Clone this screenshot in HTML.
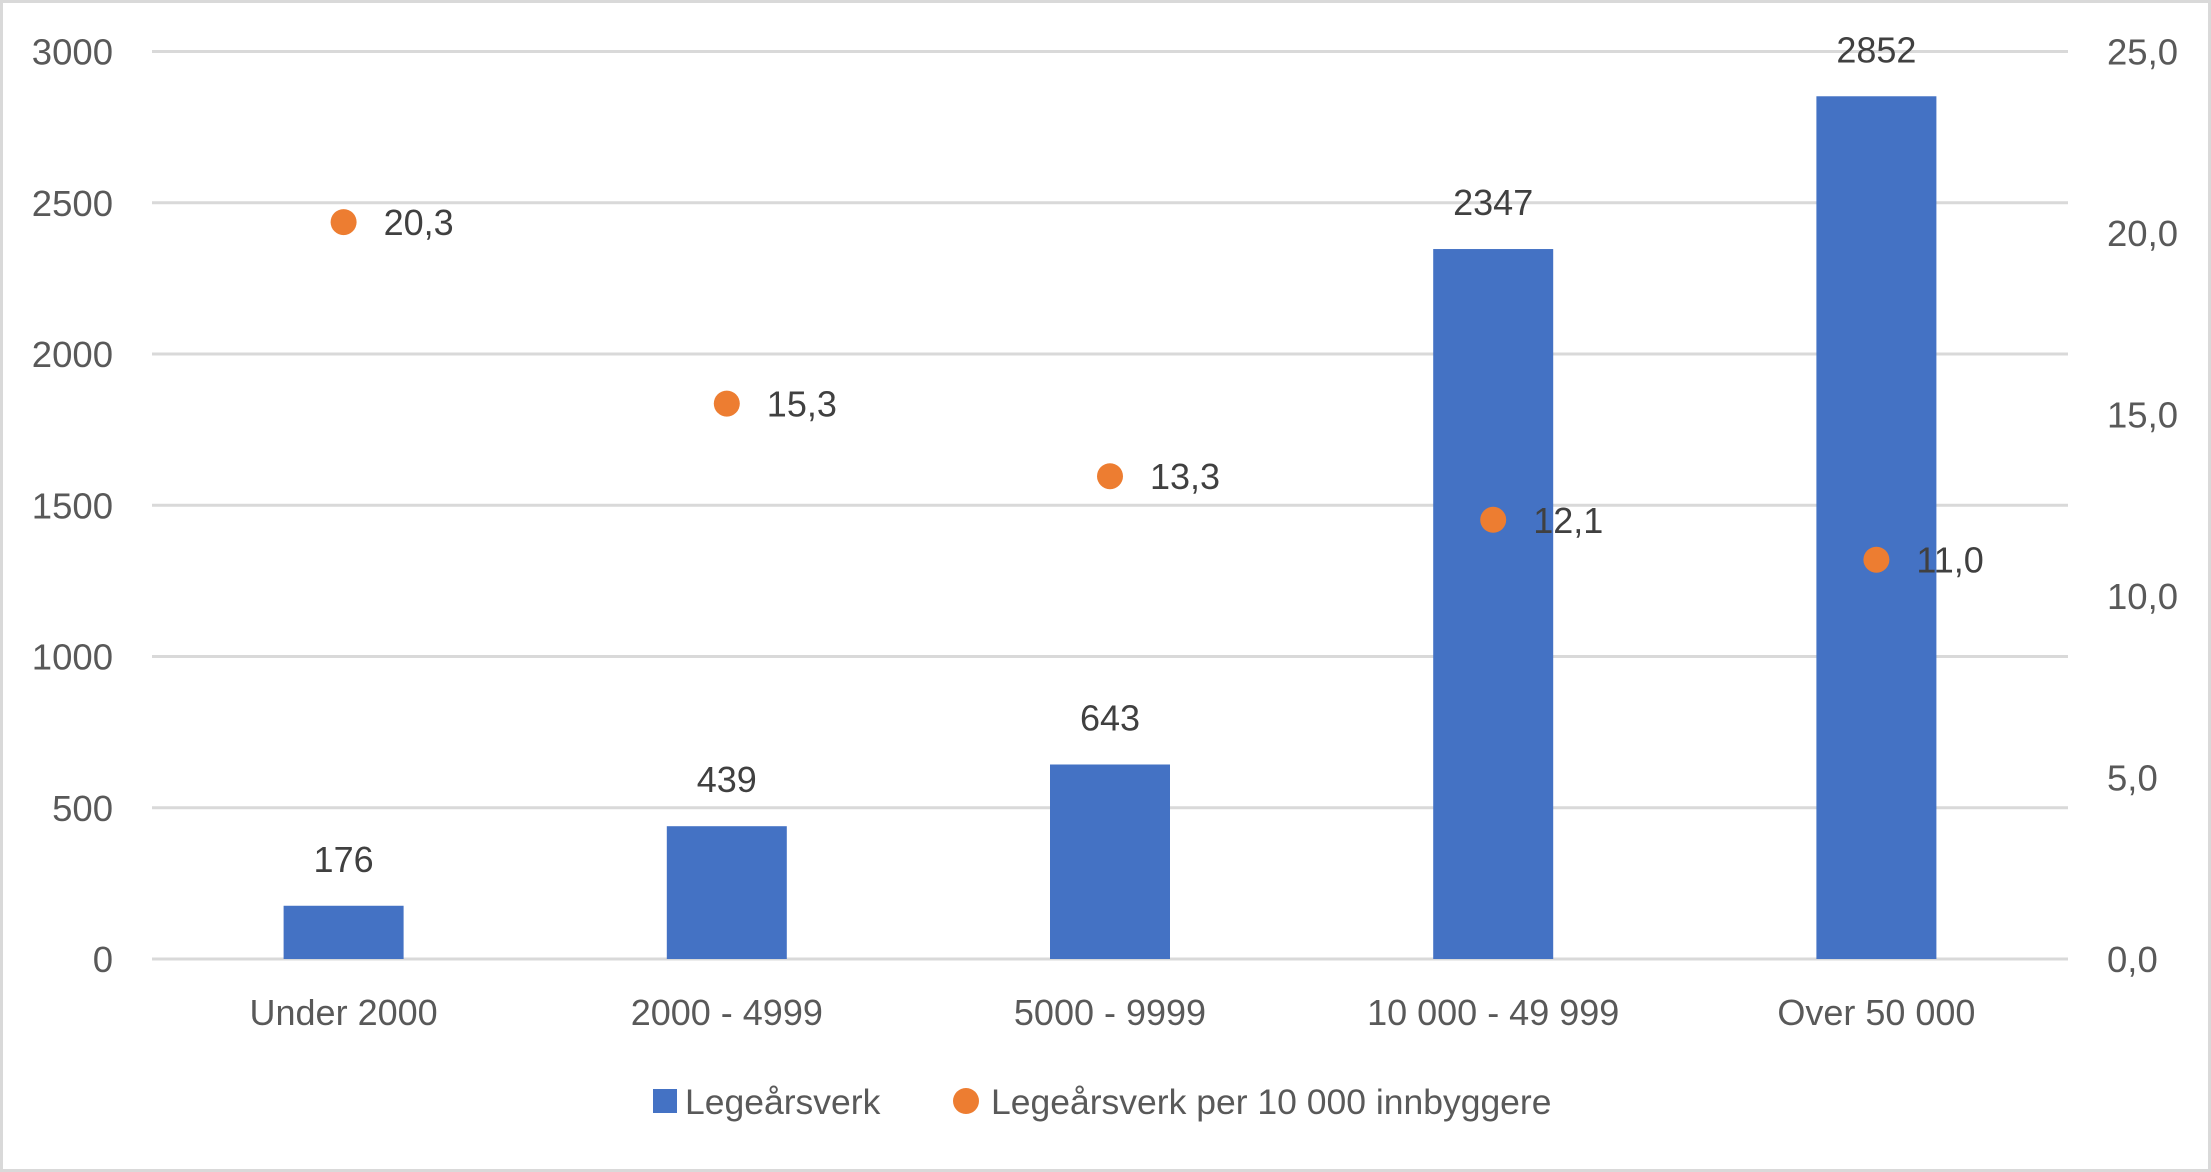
<!DOCTYPE html>
<html><head><meta charset="utf-8"><style>
body{margin:0;background:#fff}
svg{display:block;font-family:"Liberation Sans",sans-serif}
</style></head><body>
<svg id="c" width="2211" height="1172" viewBox="0 0 2211 1172">
<rect x="1.5" y="1.5" width="2208" height="1169" fill="#fff" stroke="#d9d9d9" stroke-width="3"/>
<g id="grid"></g>
<g id="bars"></g>
<g id="dots"></g>
<g id="axes"></g>
<g>
<rect x="653" y="1089" width="24" height="24" fill="#4472c4"/>
<text x="685" y="1114" font-size="35.5" fill="#595959">Legeårsverk</text>
<circle cx="966" cy="1101" r="13" fill="#ed7d31"/>
<text x="991" y="1114" font-size="35.5" fill="#595959">Legeårsverk per 10 000 innbyggere</text>
</g>
</svg>
<script>
const categories=["Under 2000","2000 - 4999","5000 - 9999","10 000 - 49 999","Over 50 000"];
const barValues=[176,439,643,2347,2852];
const dotValues=[20.3,15.3,13.3,12.1,11.0];
const leftTicks=[0,500,1000,1500,2000,2500,3000];
const rightTicks=[0,5,10,15,20,25];
const NS="http://www.w3.org/2000/svg";
const x0=152,x1=2068,y0=959,yT=51.5;
const bw=(x1-x0)/categories.length;
const yL=v=>y0-(v/3000)*(y0-yT);
const yR=v=>y0-(v/25)*(y0-yT);
const cx=i=>x0+bw*(i+0.5);
function mk(tag,attrs,parent,txt){const e=document.createElementNS(NS,tag);for(const k in attrs)e.setAttribute(k,attrs[k]);if(txt!==undefined)e.textContent=txt;document.getElementById(parent).appendChild(e);return e;}
leftTicks.forEach(t=>{
  const l=mk('line',{x1:x0,x2:x1,y1:yL(t),y2:yL(t),stroke:'#d9d9d9','stroke-width':3},'grid');
  
  
  const tx=mk('text',{x:113,y:yL(t)+13,'font-size':36.5,fill:'#595959','text-anchor':'end'},'axes',String(t));
  
  
});
rightTicks.forEach(t=>{
  const tx=mk('text',{x:2107,y:yR(t)+13,'font-size':36.5,fill:'#595959'},'axes',t.toFixed(1).replace('.',','));
  
  
});
categories.forEach((c,i)=>{
  const tx=mk('text',{x:cx(i),y:1025,'font-size':36,fill:'#595959','text-anchor':'middle'},'axes',c);
  
  
});
barValues.forEach((v,i)=>{
  const w=120;
  const r=mk('rect',{x:cx(i)-w/2,y:yL(v),width:w,height:y0-yL(v),fill:'#4472c4'},'bars');
  
  
  const t=mk('text',{x:cx(i),y:yL(v)-34,'font-size':36,fill:'#404040','text-anchor':'middle'},'bars',String(v));
  
  
});
dotValues.forEach((v,i)=>{
  const d=mk('circle',{cx:cx(i),cy:yR(v),r:13,fill:'#ed7d31'},'dots');
  
  
  const t=mk('text',{x:cx(i)+40,y:yR(v)+13,'font-size':36,fill:'#404040'},'dots',v.toFixed(1).replace('.',','));
  
  
});
</script>
</body></html>
